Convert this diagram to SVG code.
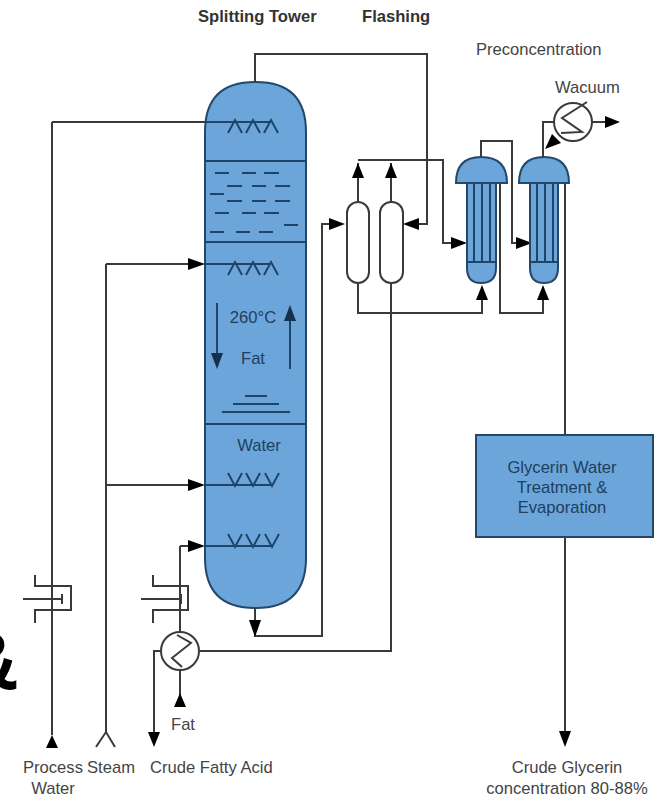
<svg xmlns="http://www.w3.org/2000/svg" width="655" height="798" viewBox="0 0 655 798">
<style>
.p{fill:none;stroke:#3a3a3a;stroke-width:2}
.i{fill:none;stroke:#1f4468;stroke-width:2}
.v{fill:#6ba5d9;stroke:#24486b;stroke-width:2}
.w{fill:#fff;stroke:#3a3a3a;stroke-width:2}
.h{fill:#fff;stroke:#3a3a3a;stroke-width:2}
.a{fill:#000}
.ai{fill:#14304d}
text{font-family:"Liberation Sans",Arial,sans-serif;font-size:16.6px;fill:#444}
.b{font-weight:bold;fill:#333}
.n{fill:#1f3f5e}
.m{text-anchor:middle}
</style>
<rect width="655" height="798" fill="#fff"/>
<g id="tower">
<path class="v" d="M205 132Q205 82 255 82H256Q306 82 306 132V558Q306 608 256 608H255Q205 608 205 558Z"/>
<path class="i" d="M205 161H306M205 242H306M205 424H306"/>
<path class="i" d="M215 173h14M242 173h14M264 173h15M227 186h15M252 186h14M275 186h15M210 194h14M227 201h15M252 201h14M275 201h15M215 213h14M242 213h14M264 213h15M284 225h14M210 232h14M236 232h14M259 232h14"/>
<path class="i" d="M245 396h22M233 404h46M222 412h68"/>
<path class="i" d="M217 303V355M290 369V319"/>
<path class="ai" d="M211 353H223L217 369ZM284 321H296L290 305Z"/>
<path class="i" d="M228 133L235 120L242 133M246 133L253 120L260 133M264 133L271 120L278 133"/>
<path class="i" d="M228 275L235 262L242 275M246 275L253 262L260 275M264 275L271 262L278 275"/>
<path class="i" d="M228 473L235 486L242 473M246 473L253 486L260 473M265 473L272 486L279 473"/>
<path class="i" d="M228 534L235 547L242 534M246 534L253 547L260 534M265 534L272 547L279 534"/>
<text class="n m" x="253" y="323">260°C</text>
<text class="n m" x="253" y="364">Fat</text>
<text class="n m" x="259" y="451">Water</text>
</g>
<g id="connectors">
<path class="p" d="M255 82V54H427V224H412"/>
<path class="p" d="M255 608V620M255 620V636H322V224H335"/>
<path class="p" d="M358 202V177M391 202V177M358 160H443V243H452M358 163V177M391 163V177"/>
<path class="p" d="M358 283V313H482V300M391 283V651H199"/>
<path class="p" d="M481 157V141H512V243H517M500 183V313H543V300M565 183V732"/>
<path class="p" d="M543 157V122H554M592 122H606"/>
<path class="p" d="M52 122H205M52 122V735M106 264H190M106 264V732M106 485H190M96 747L106 732L115 747"/>
<path class="p" d="M180 546H190M180 546V632M180 670V695M161 651H154V733"/>
<path class="i" d="M205 122H270M205 264H270M205 485H272M205 546H272"/>
<path class="a" d="M205 264L188 258V270ZM205 485L188 479V491ZM205 546L188 540V552ZM255 637L249 620H261ZM345 224L329 218V230ZM403 224L419 218V230ZM358 163L352 178H364ZM391 163L385 178H397ZM467 243L451 237V249ZM532 243L516 237V249ZM482 285L476 300H488ZM543 285L537 300H549ZM565 747L559 731H571ZM620 122L605 116V128ZM52 735L46 748H58ZM154 747L148 732H160ZM180 693L174 707H186Z"/>
</g>
<g id="vessel-1"><rect class="w" x="347" y="202" width="22" height="81" rx="11"/></g>
<g id="vessel-2"><rect class="w" x="380" y="202" width="23" height="81" rx="11"/></g>
<g id="evap-1">
<path class="v" d="M467 183H496V268Q496 283 481 283Q467 283 467 268Z"/>
<path class="i" d="M474 183V262M482 183V262M490 183V262M467 262H496"/>
<path class="v" d="M456 183Q456 157 481 157Q507 157 507 183Z"/>
</g>
<g id="evap-2">
<path class="v" d="M530 183H558V268Q558 283 544 283Q530 283 530 268Z"/>
<path class="i" d="M537 183V262M545 183V262M553 183V262M530 262H558"/>
<path class="v" d="M519 183Q519 157 544 157Q569 157 569 183Z"/>
</g>
<g id="condenser">
<circle class="h" cx="573" cy="122" r="19"/>
<path class="p" d="M587 102L562 118L582 132L561 133"/>
<path class="a" d="M545 149L552 134L561 143Z"/>
</g>
<g id="reboiler">
<circle class="h" cx="180" cy="651" r="19"/>
<path class="p" d="M177 635L191 643L172 658L182 667"/>
</g>
<g id="valve-1"><path class="p" d="M35 575V586H71V610H35V623M23 599H62M62 594V604"/></g>
<g id="valve-2"><path class="p" d="M153 575V586H188V610H153V623M141 599H181M181 594V604"/></g>
<g id="treatment">
<rect x="476" y="435" width="177" height="102" fill="#6ba5d9" stroke="#24486b" stroke-width="2"/>
<text class="n m" x="562" y="473">Glycerin Water</text>
<text class="n m" x="562" y="493">Treatment &amp;</text>
<text class="n m" x="562" y="513">Evaporation</text>
</g>
<g id="labels">
<text class="b" x="198" y="22">Splitting Tower</text>
<text class="b" x="362" y="22">Flashing</text>
<text x="476" y="55">Preconcentration</text>
<text x="555" y="93">Wacuum</text>
<text x="23" y="773">Process</text>
<text class="m" x="53" y="794">Water</text>
<text x="87" y="773">Steam</text>
<text x="150" y="773">Crude Fatty Acid</text>
<text class="m" x="183" y="730">Fat</text>
<text class="m" x="567" y="773">Crude Glycerin</text>
<text class="m" x="567" y="794">concentration 80-88%</text>
<text x="-36" y="688" style="font-size:78px;fill:#000;stroke:#000;stroke-width:3px">&amp;</text>
</g>
</svg>
